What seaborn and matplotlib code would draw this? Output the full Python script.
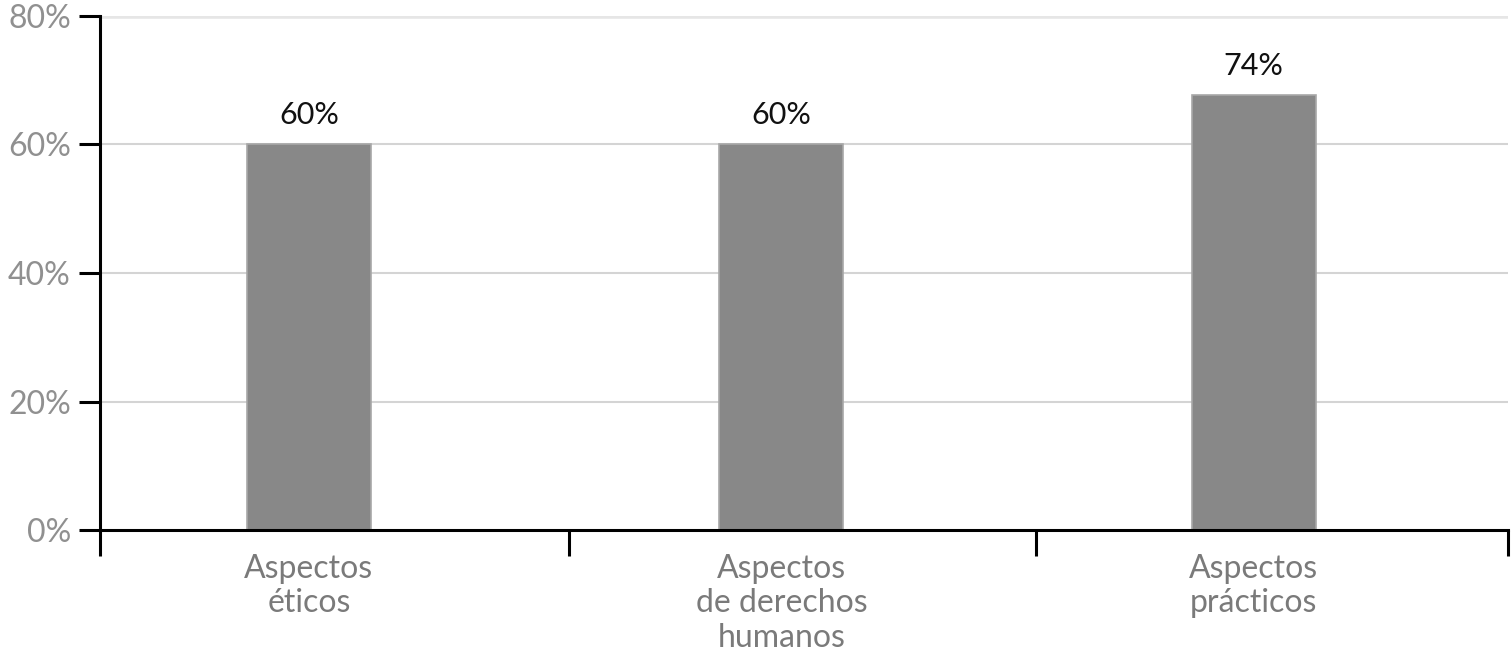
import matplotlib
matplotlib.use("Agg")
import matplotlib.pyplot as plt
import seaborn as sns
import pandas as pd

# ----------------------------------------
# data
# ----------------------------------------
categories = ["Aspectos\néticos", "Aspectos\nde derechos\nhumanos", "Aspectos\nprácticos"]
bar_values = [60, 60, 67.7]
bar_labels = ["60%", "60%", "74%"]
y_ticks = [0, 20, 40, 60, 80]

df = pd.DataFrame({"cat": categories, "val": bar_values})

sns.set_theme(style="white")
plt.rcParams["font.family"] = ["Lato", "DejaVu Sans"]

fig = plt.figure(figsize=(15.11, 6.61), dpi=100)
ax = fig.add_axes([100 / 1511, 131 / 661, 1408 / 1511, 514 / 661])

sns.barplot(data=df, x="cat", y="val", color="#888888", saturation=1,
            width=0.262, edgecolor="#a8a8a8", linewidth=1.2, ax=ax, zorder=3)

for i, lab in enumerate(bar_labels):
    ax.text(i, bar_values[i] + 2.4, lab, ha="center", va="bottom",
            fontsize=22, color="#111111", zorder=4)

ax.set_xlim(-0.442, 2.538)
ax.set_ylim(0, 80)
ax.set_yticks(y_ticks)
ax.set_yticklabels([f"{t}%" for t in y_ticks], fontsize=23, color="#909090")
for t in y_ticks[1:]:
    ax.axhline(t, color="#e6e6e6" if t == 80 else "#d4d4d4",
               lw=4 if t == 80 else 1.5, zorder=1)

# category ticks / separators
ax.set_xticks([0, 1, 2])
ax.set_xticklabels(categories, fontsize=23, color="#7a7a7a", linespacing=1.2)
ax.tick_params(axis="x", which="major", length=0, pad=17, bottom=True)
ax.set_xticks([-0.442, 0.55, 1.54, 2.538], minor=True)
ax.tick_params(axis="x", which="minor", length=19, width=2.2, color="black",
               direction="out", bottom=True)
ax.tick_params(axis="y", length=15, width=2.2, color="black", direction="out",
               left=True, pad=6)

ax.set_xlabel("")
ax.set_ylabel("")
for s in ["top", "right"]:
    ax.spines[s].set_visible(False)
ax.spines["left"].set_color("black")
ax.spines["left"].set_linewidth(2.2)
ax.spines["bottom"].set_color("black")
ax.spines["bottom"].set_linewidth(2.2)
ax.spines["bottom"].set_zorder(5)

fig.savefig("out.png", dpi=100)
plt.close()
